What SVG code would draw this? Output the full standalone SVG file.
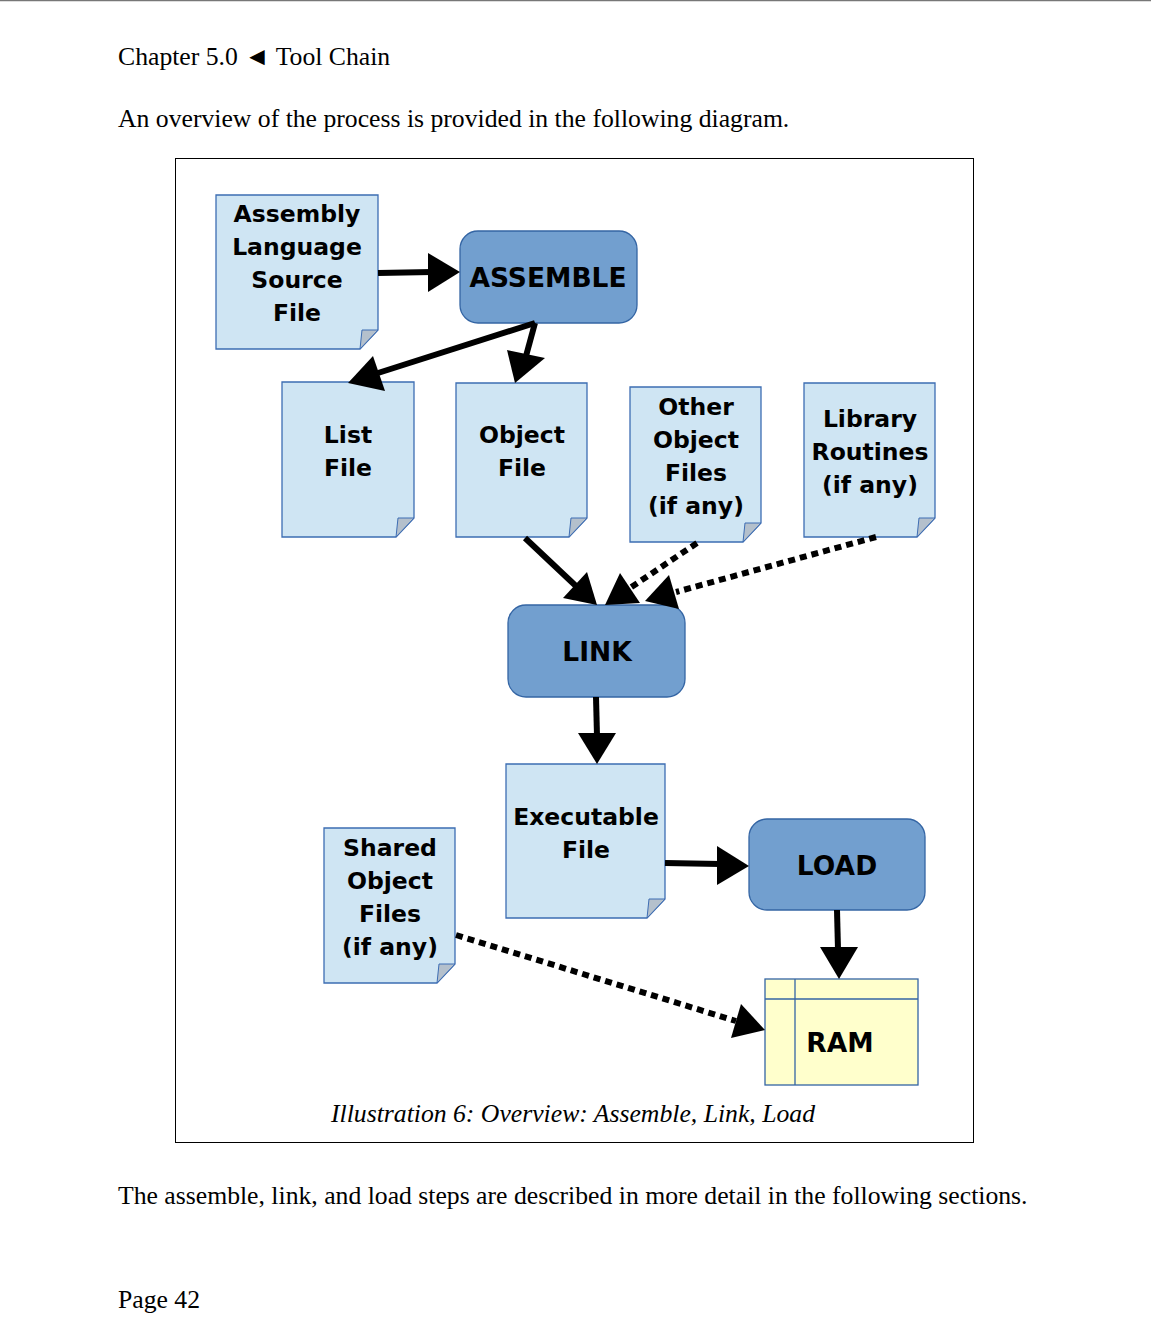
<svg xmlns="http://www.w3.org/2000/svg" width="1151" height="1318" viewBox="0 0 1151 1318">
<style>
.body{font-family:"Liberation Serif",serif;font-size:25.7px;fill:#000}
.cap{font-family:"Liberation Serif",serif;font-size:25.7px;font-style:italic;fill:#000}
.lbl{font-family:"DejaVu Sans",sans-serif;font-weight:bold;font-size:23.5px;fill:#000;text-anchor:middle}
.big{font-size:26.5px}
.doc{fill:#cfe5f3;stroke:#3d6db3;stroke-width:1.3}
.fold{fill:#b4c0cc;stroke:#3d6db3;stroke-width:1}
.proc{fill:#729fcf;stroke:#3465a4;stroke-width:1.3}
.ram{fill:#ffffcc;stroke:#3465a4;stroke-width:1.3}
.ln{stroke:#000;stroke-width:6;fill:none}
.dot{stroke:#000;stroke-width:6;fill:none;stroke-dasharray:7 5}
.hd{fill:#000}
</style>
<rect x="0" y="0" width="1151" height="1318" fill="#fff"/>
<line x1="0" y1="0.5" x2="1151" y2="0.5" stroke="#777" stroke-width="1.5"/>
<text class="body" x="118" y="65">Chapter 5.0 ◄ Tool Chain</text>
<text class="body" x="118" y="127">An overview of the process is provided in the following diagram.</text>
<rect x="175.5" y="158.5" width="798" height="984" fill="none" stroke="#000" stroke-width="1"/>

<g id="asm-src">
<path class="doc" d="M216,195 H378 V330 L360,349 H216 Z"/>
<path class="fold" d="M362,330 H378 L360,349 Z"/>
<text class="lbl" x="297" y="222">Assembly</text>
<text class="lbl" x="297" y="255">Language</text>
<text class="lbl" x="297" y="288">Source</text>
<text class="lbl" x="297" y="321">File</text>
</g>
<g id="assemble">
<rect class="proc" x="460" y="231" width="177" height="92" rx="18"/>
<text class="lbl big" x="548" y="287">ASSEMBLE</text>
</g>
<g id="list-file">
<path class="doc" d="M282,382 H414 V518 L396,537 H282 Z"/>
<path class="fold" d="M398,518 H414 L396,537 Z"/>
<text class="lbl" x="348" y="443">List</text>
<text class="lbl" x="348" y="476">File</text>
</g>
<g id="object-file">
<path class="doc" d="M456,383 H587 V518 L569,537 H456 Z"/>
<path class="fold" d="M571,518 H587 L569,537 Z"/>
<text class="lbl" x="522" y="443">Object</text>
<text class="lbl" x="522" y="476">File</text>
</g>
<g id="other-object">
<path class="doc" d="M630,387 H761 V523 L743,542 H630 Z"/>
<path class="fold" d="M745,523 H761 L743,542 Z"/>
<text class="lbl" x="696" y="415">Other</text>
<text class="lbl" x="696" y="448">Object</text>
<text class="lbl" x="696" y="481">Files</text>
<text class="lbl" x="696" y="514">(if any)</text>
</g>
<g id="library">
<path class="doc" d="M804,383 H935 V518 L917,537 H804 Z"/>
<path class="fold" d="M919,518 H935 L917,537 Z"/>
<text class="lbl" x="870" y="427">Library</text>
<text class="lbl" x="870" y="460">Routines</text>
<text class="lbl" x="870" y="493">(if any)</text>
</g>
<g id="link">
<rect class="proc" x="508" y="605" width="177" height="92" rx="18"/>
<text class="lbl big" x="597" y="661">LINK</text>
</g>
<g id="executable">
<path class="doc" d="M506,764 H665 V899 L647,918 H506 Z"/>
<path class="fold" d="M649,899 H665 L647,918 Z"/>
<text class="lbl" x="586" y="825">Executable</text>
<text class="lbl" x="586" y="858">File</text>
</g>
<g id="load">
<rect class="proc" x="749" y="819" width="176" height="91" rx="18"/>
<text class="lbl big" x="837" y="875">LOAD</text>
</g>
<g id="shared">
<path class="doc" d="M324,828 H455 V964 L437,983 H324 Z"/>
<path class="fold" d="M439,964 H455 L437,983 Z"/>
<text class="lbl" x="390" y="856">Shared</text>
<text class="lbl" x="390" y="889">Object</text>
<text class="lbl" x="390" y="922">Files</text>
<text class="lbl" x="390" y="955">(if any)</text>
</g>
<g id="ram">
<rect class="ram" x="765" y="979" width="153" height="106"/>
<line x1="795" y1="979" x2="795" y2="1085" stroke="#3465a4" stroke-width="1.3"/>
<line x1="765" y1="999" x2="918" y2="999" stroke="#3465a4" stroke-width="1.3"/>
<text class="lbl big" x="840" y="1052">RAM</text>
</g>

<g id="connectors">
<line class="ln" x1="378" y1="273" x2="432" y2="272"/>
<polygon class="hd" points="460,272 428,253 428,292"/>
<line class="ln" x1="535" y1="323" x2="378" y2="373"/>
<polygon class="hd" points="348,383 373,356 385,391"/>
<line class="ln" x1="535" y1="323" x2="526" y2="356"/>
<polygon class="hd" points="515,383 507,350 545,358"/>
<line class="ln" x1="525" y1="538" x2="577" y2="587"/>
<polygon class="hd" points="597,605 563,598 587,572"/>
<line class="dot" x1="697" y1="543" x2="630" y2="588"/>
<polygon class="hd" points="605,605 640,603 620,573"/>
<line class="dot" x1="876" y1="537" x2="676" y2="592"/>
<polygon class="hd" points="645,601 679,609 669,575"/>
<line class="ln" x1="596" y1="697" x2="597" y2="736"/>
<polygon class="hd" points="597,764 578,733 616,733"/>
<line class="ln" x1="665" y1="863" x2="720" y2="864"/>
<polygon class="hd" points="749,866 717,846 717,885"/>
<line class="ln" x1="837" y1="910" x2="838" y2="950"/>
<polygon class="hd" points="839,979 820,947 858,947"/>
<line class="dot" x1="456" y1="935" x2="736" y2="1021"/>
<polygon class="hd" points="765,1030 731,1038 741,1004"/>
</g>

<text class="cap" x="573" y="1122" text-anchor="middle">Illustration 6: Overview: Assemble, Link, Load</text>
<text class="body" x="118" y="1204">The assemble, link, and load steps are described in more detail in the following sections.</text>
<text class="body" x="118" y="1308">Page 42</text>
</svg>
